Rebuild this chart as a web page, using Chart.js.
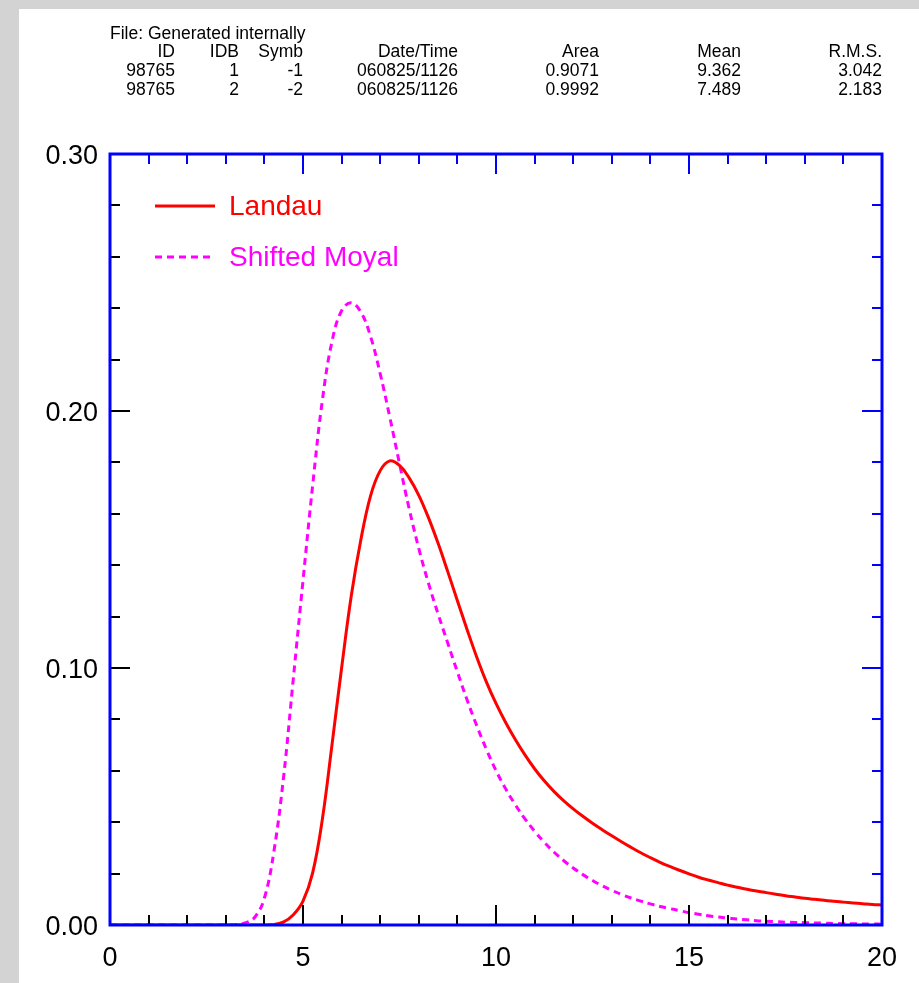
<!DOCTYPE html>
<html>
<head>
<meta charset="utf-8">
<script src="https://cdn.jsdelivr.net/npm/chart.js@4.4.1/dist/chart.umd.min.js"></script>
<style>
  html, body { margin: 0; padding: 0; background: #d3d3d3; }
  #wrap { position: relative; width: 919px; height: 983px; }
  #plot { position: absolute; left: 0; top: 0; }
  .hdr { position: absolute; font: 17.5px "Liberation Sans", Arial, sans-serif; color: #000; white-space: nowrap; line-height: 19px; z-index: 2; }
</style>
</head>
<body>
<div id="wrap">
  <canvas id="plot" width="919" height="983"></canvas>
</div>
<script>
const xs = [0,
  3, 3.25, 3.5, 3.75, 4, 4.25, 4.5, 4.75, 5, 5.25, 5.5, 5.75, 6, 6.25, 6.5, 6.75,
  7, 7.25, 7.5, 7.75, 8, 8.25, 8.5, 8.75, 9, 9.25, 9.5, 9.75, 10, 10.25, 10.5, 10.75,
  11, 11.25, 11.5, 11.75, 12, 12.25, 12.5, 12.75, 13, 13.25, 13.5, 13.75, 14, 14.25, 14.5, 14.75,
  15, 15.25, 15.5, 15.75, 16, 16.25, 16.5, 16.75, 17, 17.25, 17.5, 17.75, 18, 18.25, 18.5, 18.75,
  19, 19.25, 19.5, 19.75, 20];
const landau = [0,
  0, 0, 0, 0, 0, 0.0002, 0.0012, 0.0040, 0.0093, 0.0203, 0.041, 0.070, 0.100, 0.128, 0.150, 0.167,
  0.1768, 0.1806, 0.1788, 0.1740, 0.1672, 0.1585, 0.1485, 0.1375, 0.1262, 0.1150, 0.1043, 0.0946, 0.0862, 0.0788, 0.0722, 0.0662,
  0.0608, 0.0561, 0.0520, 0.0484, 0.0452, 0.0423, 0.0396, 0.0371, 0.0347, 0.0324, 0.0302, 0.0281, 0.0262, 0.0244, 0.0228, 0.0213,
  0.0199, 0.0186, 0.0175, 0.0165, 0.0155, 0.0147, 0.0139, 0.0132, 0.0126, 0.0120, 0.0114, 0.0109, 0.0104, 0.0100, 0.0096, 0.0092,
  0.0089, 0.0086, 0.0083, 0.0080, 0.0078];
const moyal = [0,
  0, 0.0001, 0.0008, 0.003, 0.0105, 0.029, 0.058, 0.096, 0.134, 0.171, 0.204, 0.227, 0.239, 0.2421, 0.2385, 0.229,
  0.2145, 0.1975, 0.1795, 0.1620, 0.1465, 0.1330, 0.1210, 0.1097, 0.0985, 0.0876, 0.0776, 0.0684, 0.0601, 0.0530, 0.0468, 0.0413,
  0.0365, 0.0322, 0.0284, 0.0251, 0.0222, 0.0196, 0.0173, 0.0153, 0.0135, 0.0119, 0.0105, 0.0093, 0.0082, 0.0072, 0.0064, 0.0056,
  0.0048, 0.0042, 0.0036, 0.0031, 0.0027, 0.0023, 0.0020, 0.0017, 0.0015, 0.0013, 0.0011, 0.0010, 0.0009, 0.0008, 0.0007, 0.0006,
  0.0005, 0.0005, 0.0004, 0.0004, 0.0003];
const seriesNames = ['Landau', 'Shifted Moyal'];
const yTicks = [0, 0.1, 0.2, 0.3];
const xTicks = [0, 5, 10, 15, 20];

// header block (file info table)
const hdrCols = ['ID', 'IDB', 'Symb', 'Date/Time', 'Area', 'Mean', 'R.M.S.'];
const hdrRows = [
  ['98765', '1', '-1', '060825/1126', '0.9071', '9.362', '3.042'],
  ['98765', '2', '-2', '060825/1126', '0.9992', '7.489', '2.183']
];
const colRight = [175, 239, 303, 458, 599, 741, 882];
const rowTop = [24, 42, 61, 80];

const wrap = document.getElementById('wrap');
function addText(txt, top, left, right) {
  const d = document.createElement('div');
  d.className = 'hdr';
  d.textContent = txt;
  d.style.top = top + 'px';
  if (right != null) d.style.right = (919 - right) + 'px';
  else d.style.left = left + 'px';
  wrap.appendChild(d);
}
addText('File: Generated internally', rowTop[0], 110);
hdrCols.forEach((c, i) => addText(c, rowTop[1], null, colRight[i]));
hdrRows.forEach((r, j) => r.forEach((c, i) => addText(c, rowTop[2 + j], null, colRight[i])));

const BLUE = '#0000ff';
const FONT = '"Liberation Sans", Arial, sans-serif';

const framePlugin = {
  id: 'frame',
  beforeDraw(chart) {
    const ctx = chart.ctx;
    ctx.save();
    ctx.fillStyle = '#d3d3d3';
    ctx.fillRect(0, 0, 919, 983);
    ctx.fillStyle = '#ffffff';
    ctx.fillRect(19, 9, 900, 974);
    ctx.restore();
  },
  afterDatasetsDraw(chart) {
    const ctx = chart.ctx;
    const a = chart.chartArea;
    const sx = chart.scales.x, sy = chart.scales.y;
    ctx.save();
    ctx.lineWidth = 2;
    // x ticks: bottom black, top blue
    for (let v = 1; v < 20; v++) {
      const px = Math.round(sx.getPixelForValue(v));
      const len = v % 5 === 0 ? 20 : 10;
      ctx.strokeStyle = '#000';
      ctx.beginPath(); ctx.moveTo(px, a.bottom); ctx.lineTo(px, a.bottom - len); ctx.stroke();
      ctx.strokeStyle = BLUE;
      ctx.beginPath(); ctx.moveTo(px, a.top); ctx.lineTo(px, a.top + len); ctx.stroke();
    }
    // y ticks: left black, right blue
    for (let k = 1; k < 15; k++) {
      const py = Math.round(sy.getPixelForValue(k * 0.02));
      const len = k % 5 === 0 ? 20 : 10;
      ctx.strokeStyle = '#000';
      ctx.beginPath(); ctx.moveTo(a.left, py); ctx.lineTo(a.left + len, py); ctx.stroke();
      ctx.strokeStyle = BLUE;
      ctx.beginPath(); ctx.moveTo(a.right, py); ctx.lineTo(a.right - len, py); ctx.stroke();
    }
    // frame
    ctx.strokeStyle = BLUE;
    ctx.lineWidth = 3;
    ctx.strokeRect(a.left, a.top, a.right - a.left, a.bottom - a.top);
    // legend inside the frame
    ctx.font = '28px ' + FONT;
    ctx.textBaseline = 'middle';
    chart.data.datasets.forEach((ds, i) => {
      const y = 206 + i * 51;
      ctx.strokeStyle = ds.borderColor;
      ctx.lineWidth = 3;
      ctx.setLineDash(ds.borderDash || []);
      ctx.beginPath(); ctx.moveTo(155, y); ctx.lineTo(215, y); ctx.stroke();
      ctx.setLineDash([]);
      ctx.fillStyle = ds.borderColor;
      ctx.fillText(ds.label, 229, y + 1);
    });
    ctx.restore();
  }
};

const toPts = arr => arr.map((v, i) => ({ x: xs[i], y: v }));

new Chart(document.getElementById('plot'), {
  type: 'line',
  data: {
    datasets: [
      { label: seriesNames[0], data: toPts(landau), borderColor: '#ff0000', borderWidth: 3,
        pointRadius: 0, fill: false, tension: 0.4 },
      { label: seriesNames[1], data: toPts(moyal), borderColor: '#ff00ff', borderWidth: 3,
        borderDash: [7, 5], pointRadius: 0, fill: false, tension: 0.4 }
    ]
  },
  options: {
    responsive: false,
    animation: false,
    layout: { padding: { top: 154, right: 37, left: 0, bottom: 0 } },
    plugins: { legend: { display: false }, tooltip: { enabled: false } },
    scales: {
      x: {
        type: 'linear', min: 0, max: 20,
        afterFit: s => { s.height = 58; },
        afterBuildTicks: s => { s.ticks = xTicks.map(v => ({ value: v })); },
        grid: { display: false, drawTicks: false },
        border: { display: false },
        ticks: { color: '#000', padding: 17, maxRotation: 0, font: { family: FONT, size: 27 } }
      },
      y: {
        min: 0, max: 0.3,
        afterFit: s => { s.width = 110; },
        afterBuildTicks: s => { s.ticks = yTicks.map(v => ({ value: v })); },
        grid: { display: false, drawTicks: false },
        border: { display: false },
        // blank first line nudges the label a few pixels down, as in the original
        ticks: { color: '#000', padding: 12, font: { family: FONT, size: 27, lineHeight: '6px' },
                 callback: v => ['', v.toFixed(2)] }
      }
    }
  },
  plugins: [framePlugin]
});
</script>
</body>
</html>
